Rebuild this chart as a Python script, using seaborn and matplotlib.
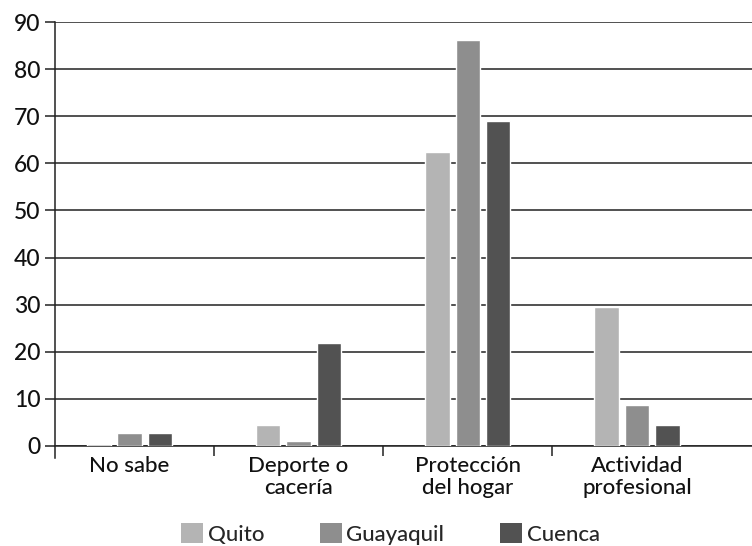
import matplotlib
matplotlib.use("Agg")
import matplotlib.pyplot as plt
import seaborn as sns
import pandas as pd
from matplotlib.patches import Patch

categories = ["No sabe", "Deporte o\ncacería", "Protección\ndel hogar", "Actividad\nprofesional"]
series = ["Quito", "Guayaquil", "Cuenca"]
quito = [0.5, 4.5, 62.3, 29.4]
guayaquil = [2.8, 1.0, 86.2, 8.6]
cuenca = [2.8, 21.9, 69.0, 4.5]
colors = ["#b4b4b4", "#8e8e8e", "#525252"]
yticks = [0, 10, 20, 30, 40, 50, 60, 70, 80, 90]

rows = []
for s, vals in zip(series, [quito, guayaquil, cuenca]):
    for c, v in zip(categories, vals):
        rows.append({"cat": c, "serie": s, "valor": v})
df = pd.DataFrame(rows)

sns.set_theme(style="white")
plt.rcParams["font.family"] = ["Lato", "DejaVu Sans"]

fig = plt.figure(figsize=(7.52, 5.46), dpi=100)
ax = fig.add_axes([0.0731, 0.1832, 0.9269, 0.7765])

sns.barplot(data=df, x="cat", y="valor", hue="serie", order=categories,
            hue_order=series, palette=colors, width=0.54, gap=0.2,
            saturation=1, ax=ax, legend=False, zorder=3)

ax.set_ylim(0, 90)
ax.set_yticks(yticks)
ax.set_xlim(-0.44, 3.68)
ax.set_xticks([0.5, 1.5, 2.5])
ax.set_xticklabels([])
for i, c in enumerate(categories):
    ax.text(i, -2.2, c, ha="center", va="top", fontsize=16, color="#111111",
            linespacing=1.12, fontweight="medium")
ax.set_xlabel("")
ax.set_ylabel("")
ax.yaxis.grid(True, color="#222222", linewidth=1.1, zorder=0)
ax.set_axisbelow(True)
for sp in ["top", "right"]:
    ax.spines[sp].set_visible(False)
for sp in ["left", "bottom"]:
    ax.spines[sp].set_color("#222222")
    ax.spines[sp].set_linewidth(1.1)
ax.tick_params(axis="y", length=7.5, width=1.1, color="#222222", labelsize=16.5, pad=3,
               left=True, labelcolor="#111111")
for lbl in ax.get_yticklabels():
    lbl.set_fontweight("medium")
ax.tick_params(axis="x", length=7.5, width=1.1, color="#222222", bottom=True, direction="out")
ax.spines["left"].set_bounds(-2.5, 90)
ax.spines["left"].set_clip_on(False)

handles = [Patch(facecolor=col, edgecolor="none") for col in colors]
leg = fig.legend(handles, series, loc="center", bbox_to_anchor=(0.519, 0.022), ncol=3,
                 frameon=False, fontsize=16, handlelength=1.0, handleheight=1.0,
                 handletextpad=0.2, columnspacing=2.5)
for t in leg.get_texts():
    t.set_fontweight("medium")

fig.savefig("out.png", dpi=100)
